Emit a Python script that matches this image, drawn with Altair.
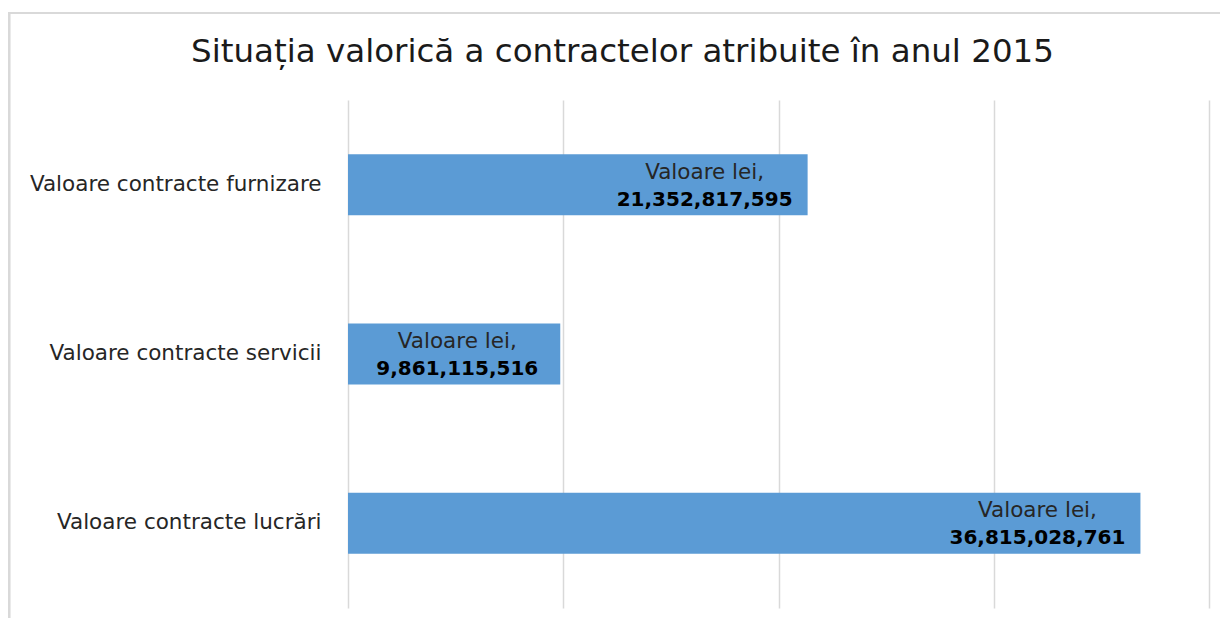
import altair as alt
import pandas as pd

categories = ["Valoare contracte furnizare", "Valoare contracte servicii", "Valoare contracte lucrări"]
values = [21352817595, 9861115516, 36815028761]
label_prefix = ["Valoare lei,", "Valoare lei,", "Valoare lei,"]
grid_values = [0, 10e9, 20e9, 30e9, 40e9]
title_text = "Situația valorică a contractelor atribuite în anul 2015"

df = pd.DataFrame({"cat": categories, "val": values, "prefix": label_prefix})

W, H = 861, 508
FONT = "DejaVu Sans"

y_enc = alt.Y(
    "cat:N", sort=categories, title=None,
    scale=alt.Scale(paddingInner=0.64, paddingOuter=0.32),
    axis=alt.Axis(ticks=False, domain=False, labelFontSize=21.5, labelColor="#262626",
                  labelPadding=27, labelFont=FONT, labelLimit=400),
)
x_enc = alt.X(
    "val:Q", title=None, scale=alt.Scale(domain=[0, 40e9], nice=False),
    axis=alt.Axis(values=grid_values, labels=False, ticks=False, domain=False,
                  grid=True, gridColor="#D9D9D9", gridWidth=1.5),
)

base = alt.Chart(df)
bars = base.mark_bar(color="#5B9BD5").encode(x=x_enc, y=y_enc)
t1 = base.mark_text(align="center", baseline="middle", dx=-103, dy=-12, fontSize=21.5,
                    color="#262626", font=FONT).encode(
    x="val:Q", y=alt.Y("cat:N", sort=categories), text="prefix:N")
t2 = base.mark_text(align="center", baseline="middle", dx=-103, dy=15, fontSize=20,
                    fontWeight="bold", color="#000000", font=FONT).encode(
    x="val:Q", y=alt.Y("cat:N", sort=categories), text=alt.Text("val:Q", format=","))

border_top = base.mark_rule(color="#D9D9D9", strokeWidth=2).encode(
    x=alt.value(-340), x2=alt.value(W + 40), y=alt.value(-87))
border_left = base.mark_rule(color="#D9D9D9", strokeWidth=2.5).encode(
    x=alt.value(-339), y=alt.value(-87), y2=alt.value(H + 40))

chart = alt.layer(bars, t1, t2, border_top, border_left).properties(
    width=W, height=H,
    title=alt.TitleParams(title_text, fontSize=32.5, font=FONT, fontWeight="normal",
                          color="#1a1a1a", anchor="middle", dx=-156, offset=-83,
                          baseline="alphabetic"),
    autosize=alt.AutoSizeParams(type="none"),
    padding={"left": 340, "top": 92, "right": 11, "bottom": 10},
).configure_view(stroke=None)

chart.save("out.html", embed_options={"renderer": "svg", "actions": False})
